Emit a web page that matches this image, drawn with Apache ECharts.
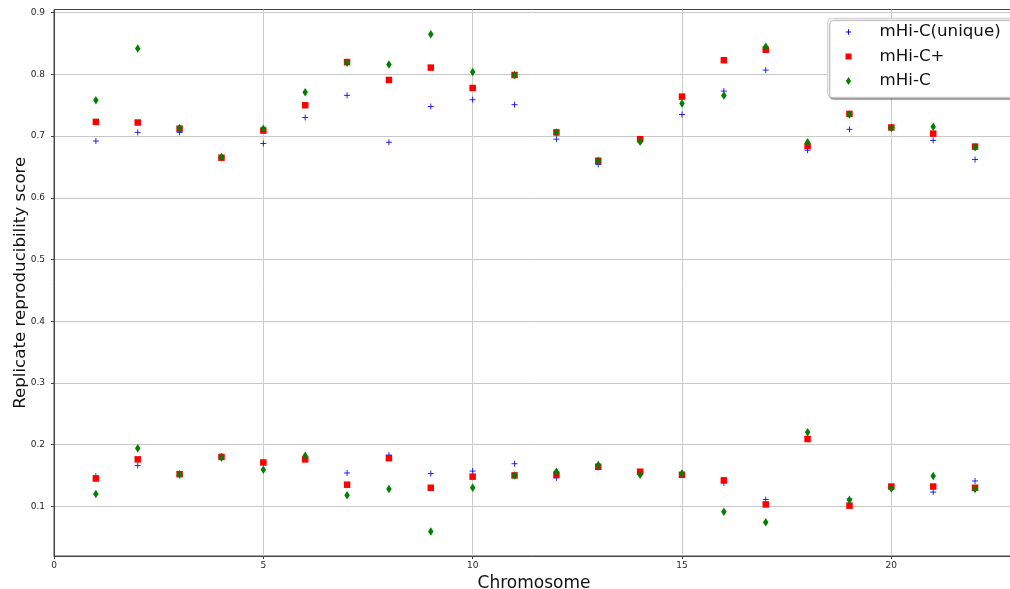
<!DOCTYPE html>
<html>
<head>
<meta charset="utf-8">
<script src="https://cdn.jsdelivr.net/npm/echarts@6/dist/echarts.min.js"></script>
<style>
  html, body { margin: 0; padding: 0; background: #ffffff; }
  #chart { width: 1010px; height: 589px; }
</style>
</head>
<body>
<div id="chart"></div>
<script>
// Chromosome numbers
const chromosomes = [1, 2, 3, 4, 5, 6, 7, 8, 9, 10, 11, 12, 13, 14, 15, 16, 17, 18, 19, 20, 21, 22];

// Replicate reproducibility scores, upper and lower group per chromosome
const uniqueHigh = [0.692, 0.706, 0.706, 0.665, 0.688, 0.730, 0.766, 0.690, 0.748, 0.759, 0.751,
                    0.695, 0.654, 0.695, 0.735, 0.773, 0.807, 0.677, 0.711, 0.714, 0.693, 0.662];
const uniqueLow  = [0.149, 0.166, 0.150, 0.181, 0.171, 0.178, 0.154, 0.183, 0.153, 0.157, 0.169,
                    0.146, 0.163, 0.155, 0.152, 0.138, 0.111, 0.212, 0.112, 0.131, 0.123, 0.141];
const plusHigh   = [0.723, 0.722, 0.712, 0.665, 0.709, 0.750, 0.820, 0.791, 0.811, 0.778, 0.799,
                    0.706, 0.660, 0.695, 0.764, 0.823, 0.840, 0.684, 0.736, 0.714, 0.704, 0.683];
const plusLow    = [0.145, 0.176, 0.152, 0.180, 0.171, 0.176, 0.135, 0.178, 0.130, 0.148, 0.150,
                    0.151, 0.164, 0.156, 0.151, 0.142, 0.103, 0.209, 0.101, 0.132, 0.132, 0.130];
const mhicHigh   = [0.758, 0.842, 0.713, 0.666, 0.712, 0.771, 0.819, 0.816, 0.865, 0.804, 0.799,
                    0.706, 0.660, 0.691, 0.753, 0.766, 0.845, 0.690, 0.735, 0.713, 0.715, 0.682];
const mhicLow    = [0.120, 0.194, 0.152, 0.179, 0.159, 0.182, 0.118, 0.128, 0.059, 0.130, 0.150,
                    0.156, 0.167, 0.151, 0.153, 0.091, 0.074, 0.220, 0.110, 0.129, 0.149, 0.128];

// Axis ticks
const xTicks = [0, 5, 10, 15, 20];
const yTicks = [0.1, 0.2, 0.3, 0.4, 0.5, 0.6, 0.7, 0.8, 0.9];

const seriesNames = ['mHi-C(unique)', 'mHi-C+', 'mHi-C'];

function pairs(high, low) {
  const out = [];
  chromosomes.forEach((c, i) => { out.push([c, high[i]]); out.push([c, low[i]]); });
  return out;
}

// Marker shapes
const plusPath = 'path://M-1,0L1,0M0,-1L0,1';
const diamondPath = 'path://M0,-1L0.62,0L0,1L-0.62,0Z';
// Legend icons carry a fixed frame so they keep their small size
const legendPlus = 'path://M-7,-7M7,7M-2.7,0L2.7,0M0,-2.7L0,2.7';
const legendSquare = 'path://M-7,-7M7,7M-3,-3L3,-3L3,3L-3,3Z';
const legendDiamond = 'path://M-7,-7M7,7M0,-4L2.6,0L0,4L-2.6,0Z';

const blue = '#0000ff', red = '#ff0000', green = '#008000';
const fontFamily = 'DejaVu Sans';

const chart = echarts.init(document.getElementById('chart'), null, { renderer: 'canvas' });

chart.setOption({
  animation: false,
  backgroundColor: '#ffffff',
  textStyle: { fontFamily: fontFamily },
  grid: {
    left: 54, top: 9.5, width: 960, height: 546.5,
    containLabel: false,
    outerBoundsMode: 'none',
    show: true, borderColor: '#444444', borderWidth: 1, backgroundColor: 'transparent'
  },
  xAxis: {
    type: 'value',
    min: 0, max: 22.93,
    name: 'Chromosome',
    nameLocation: 'middle',
    nameGap: 19,
    nameMoveOverlap: false,
    nameTextStyle: { fontSize: 17, color: '#111111', fontFamily: fontFamily },
    axisLine: { show: true, lineStyle: { color: '#444444', width: 1 } },
    axisTick: { show: true, length: 3, lineStyle: { color: '#444444' }, customValues: xTicks },
    axisLabel: { customValues: xTicks, fontSize: 9, color: '#262626', margin: 5, fontFamily: fontFamily },
    splitLine: { show: true, lineStyle: { color: '#cccccc', width: 1 } }
  },
  yAxis: {
    type: 'value',
    min: 0.0194, max: 0.9052,
    name: 'Replicate reproducibility score',
    nameLocation: 'middle',
    nameGap: 25,
    nameMoveOverlap: false,
    nameTextStyle: { fontSize: 16.67, color: '#111111', fontFamily: fontFamily },
    axisLine: { show: true, lineStyle: { color: '#444444', width: 1 } },
    axisTick: { show: true, length: 3, lineStyle: { color: '#444444' }, customValues: yTicks },
    axisLabel: {
      customValues: yTicks, fontSize: 9, color: '#262626', margin: 9, fontFamily: fontFamily,
      formatter: v => v.toFixed(1)
    },
    splitLine: { show: true, lineStyle: { color: '#c8c8c8', width: 1 } }
  },
  legend: {
    orient: 'vertical',
    align: 'left',
    left: 827.7,
    top: 18.3,
    padding: [4.7, 14, 7.3, 13.3],
    itemWidth: 20,
    itemHeight: 14,
    itemGap: 6.5,
    backgroundColor: '#ffffff',
    borderColor: '#cccccc',
    borderWidth: 1,
    borderRadius: 4,
    shadowColor: 'rgba(0,0,0,0.35)',
    shadowBlur: 1,
    shadowOffsetX: 2,
    shadowOffsetY: 2,
    textStyle: { fontSize: 16.67, color: '#111111', lineHeight: 18, padding: [0, 0, 0, 16], fontFamily: fontFamily },
    data: [
      { name: seriesNames[0], icon: legendPlus,
        itemStyle: { color: blue, borderColor: blue, borderWidth: 1 } },
      { name: seriesNames[1], icon: legendSquare,
        itemStyle: { color: red, borderWidth: 0 } },
      { name: seriesNames[2], icon: legendDiamond,
        itemStyle: { color: green, borderWidth: 0 } }
    ]
  },
  series: [
    {
      name: seriesNames[0],
      type: 'scatter',
      symbol: plusPath,
      symbolSize: 6,
      symbolKeepAspect: true,
      itemStyle: { color: blue, borderColor: 'rgba(0,0,255,0.85)', borderWidth: 1, opacity: 1 },
      data: pairs(uniqueHigh, uniqueLow)
    },
    {
      name: seriesNames[1],
      type: 'scatter',
      symbol: 'rect',
      symbolSize: 6.5,
      itemStyle: { color: red, opacity: 1 },
      data: pairs(plusHigh, plusLow)
    },
    {
      name: seriesNames[2],
      type: 'scatter',
      symbol: diamondPath,
      symbolSize: [5.5, 8.5],
      itemStyle: { color: green, opacity: 1 },
      data: pairs(mhicHigh, mhicLow)
    }
  ]
});
</script>
</body>
</html>
